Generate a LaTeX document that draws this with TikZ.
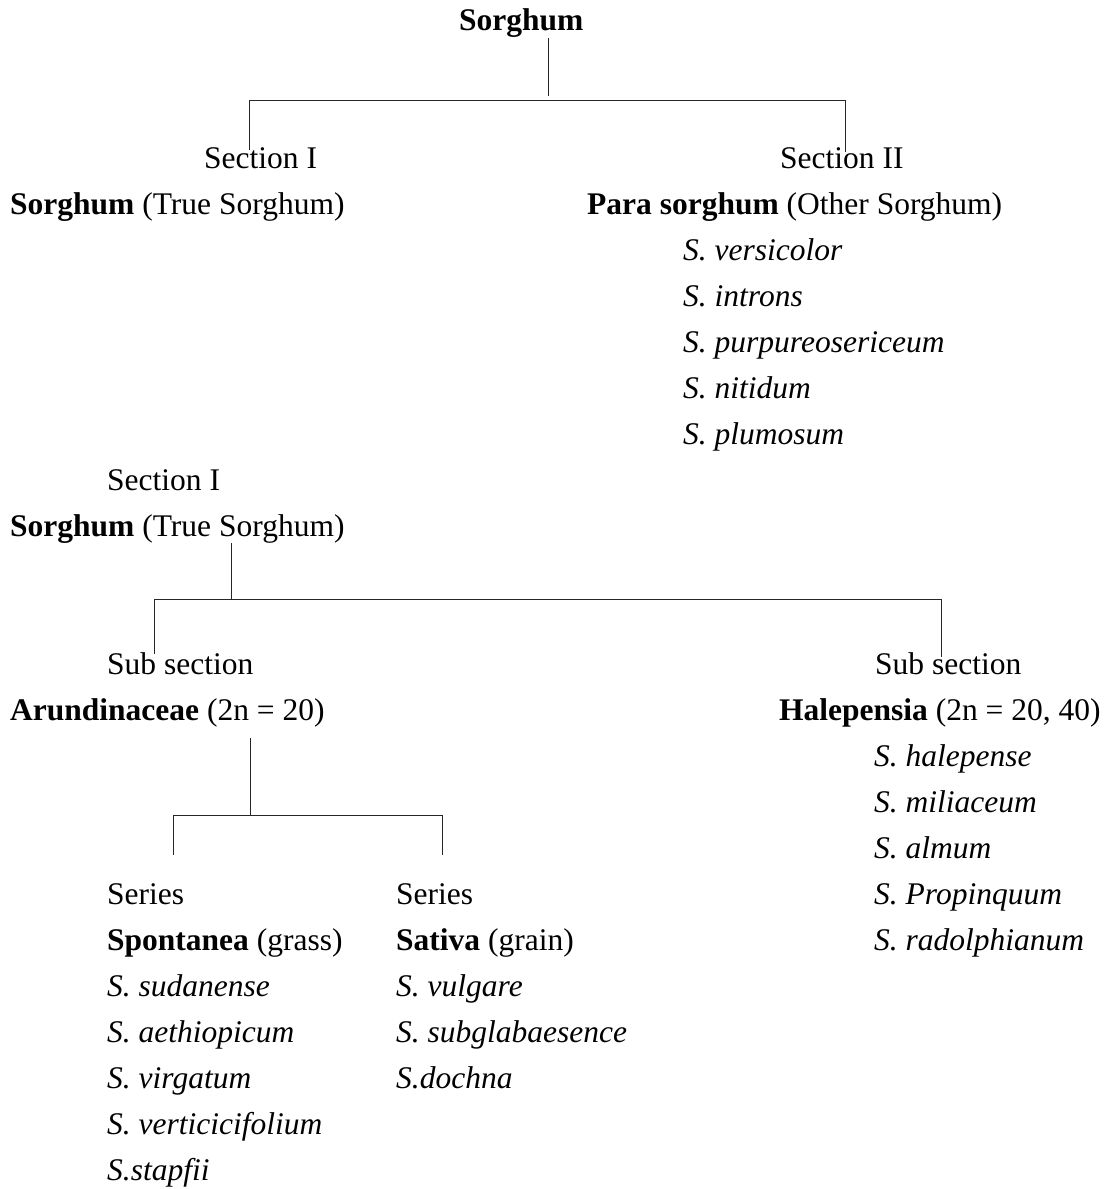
\documentclass[tikz,border=0pt]{standalone}
\usepackage{fontspec}
\setmainfont{Liberation Serif}
\begin{document}
\begin{tikzpicture}[x=1pt,y=-1pt,
  txt/.style={anchor=base west,inner sep=0pt,font=\fontsize{31.5}{46}\selectfont},
  sp/.style={anchor=base west,inner sep=0pt,font=\fontsize{31.5}{46}\selectfont\itshape},
  link/.style={draw=black!85,line width=1pt}]
\useasboundingbox (0,0) rectangle (1109,1189);

% ---- genus and its two sections
\node[txt] (root) at (459,30) {\textbf{Sorghum}};
\node[txt] (secI) at (204,168) {Section I};
\node[txt] (secIname) at (10,214) {\textbf{Sorghum} (True Sorghum)};
\node[txt] (secII) at (780,168) {Section II};
\node[txt] (secIIname) at (587,214) {\textbf{Para sorghum} (Other Sorghum)};
\node[sp] (ps1) at (683,260) {S. versicolor};
\node[sp] (ps2) at (683,306) {S. introns};
\node[sp] (ps3) at (683,352) {S. purpureosericeum};
\node[sp] (ps4) at (683,398) {S. nitidum};
\node[sp] (ps5) at (683,444) {S. plumosum};

\coordinate (rootdown) at (548,38);
\coordinate (rootbar)  at (548,96);
\coordinate (barL) at (249,100);
\coordinate (barR) at (845,100);
\coordinate (secItop)  at (249,150);
\coordinate (secIItop) at (845,152);
\draw[link] (rootdown) -- (rootbar);
\draw[link] (secItop) -- (barL) -- (barR) -- (secIItop);

% ---- Section I and its sub sections
\node[txt] (secIb) at (107,490) {Section I};
\node[txt] (secIbname) at (10,536) {\textbf{Sorghum} (True Sorghum)};
\node[txt] (subA) at (107,674) {Sub section};
\node[txt] (subAname) at (10,720) {\textbf{Arundinaceae} (2n = 20)};
\node[txt] (subH) at (875,674) {Sub section};
\node[txt] (subHname) at (779,720) {\textbf{Halepensia} (2n = 20, 40)};
\node[sp] (h1) at (874,766) {S. halepense};
\node[sp] (h2) at (874,812) {S. miliaceum};
\node[sp] (h3) at (874,858) {S. almum};
\node[sp] (h4) at (874,904) {S. Propinquum};
\node[sp] (h5) at (874,950) {S. radolphianum};

\coordinate (secIdown) at (231,543);
\coordinate (secIbar)  at (231,599);
\coordinate (subbarL) at (154,599);
\coordinate (subbarR) at (941,599);
\coordinate (subAtop) at (154,654);
\coordinate (subHtop) at (941,657);
\draw[link] (secIdown) -- (secIbar);
\draw[link] (subAtop) -- (subbarL) -- (subbarR) -- (subHtop);

% ---- Arundinaceae and its two series
\node[txt] (serS) at (107,904) {Series};
\node[txt] (serSname) at (107,950) {\textbf{Spontanea} (grass)};
\node[sp] (s1) at (107,996) {S. sudanense};
\node[sp] (s2) at (107,1042) {S. aethiopicum};
\node[sp] (s3) at (107,1088) {S. virgatum};
\node[sp] (s4) at (107,1134) {S. verticicifolium};
\node[sp] (s5) at (107,1180) {S.stapfii};
\node[txt] (serV) at (396,904) {Series};
\node[txt] (serVname) at (396,950) {\textbf{Sativa} (grain)};
\node[sp] (v1) at (396,996) {S. vulgare};
\node[sp] (v2) at (396,1042) {S. subglabaesence};
\node[sp] (v3) at (396,1088) {S.dochna};

\coordinate (arDown) at (250,738);
\coordinate (arBar)  at (250,815);
\coordinate (serbarL) at (173,815);
\coordinate (serbarR) at (442,815);
\coordinate (serStop) at (173,855);
\coordinate (serVtop) at (442,855);
\draw[link] (arDown) -- (arBar);
\draw[link] (serStop) -- (serbarL) -- (serbarR) -- (serVtop);
\end{tikzpicture}
\end{document}
